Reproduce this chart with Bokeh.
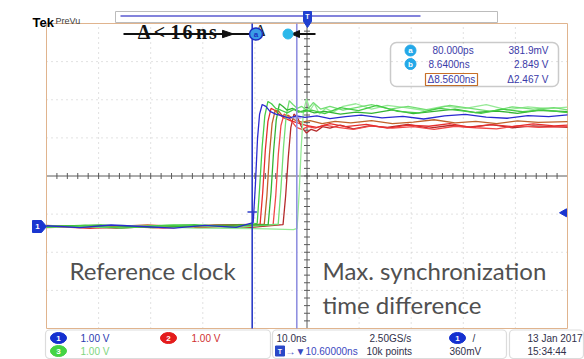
from bokeh.plotting import figure
from bokeh.models import Range1d, BoxAnnotation
from bokeh.core.properties import value
from bokeh.embed import file_html
from bokeh.resources import INLINE
import numpy as np

# ---------------- scope settings ----------------
TIME_PER_DIV_NS = 10.0
H_POSITION_NS = 10.6
VOLTS_PER_DIV = 1.0
CH1_OFFSET_DIV = 1.325
TRIGGER_LEVEL_V = 0.36
CURSOR_A_NS = 0.08
CURSOR_B_NS = 8.64
CURSOR_A_V = 0.3819
CURSOR_B_V = 2.849

# ---------------- waveforms (time ns, volts) ----------------
BLUE_T = [-39.4, -33, -27, -21, -15, -9, -3, 0.27, 0.7, 1.1, 1.5, 2.0, 2.7, 3.5, 4.6, 5.8, 7.2, 8.6, 10.2, 12.5, 15, 18, 21, 25, 29, 33, 37, 41, 45, 49, 53, 57, 60.6]
BLUE_V = [0.02, -0.03, 0.04, 0.00, -0.04, 0.03, -0.02, 0.10, 1.10, 2.30, 2.95, 3.20, 3.15, 3.02, 2.95, 2.90, 2.84, 2.90, 2.86, 2.90, 2.83, 2.88, 2.92, 2.85, 2.89, 2.82, 2.90, 2.94, 2.87, 2.84, 2.91, 2.88, 2.93]

GREEN1_T = [-39.4, -32, -25, -18, -11, -4, 1.04, 1.5, 2.0, 2.5, 3.1, 3.8, 4.6, 5.6, 6.8, 8.2, 9.6, 11.5, 14, 17, 20.5, 24, 28, 32, 36, 40, 44, 48, 52, 56, 60.6]
GREEN1_V = [-0.02, 0.03, -0.04, 0.02, 0.05, -0.01, 0.08, 1.0, 2.1, 2.9, 3.28, 3.22, 3.10, 3.05, 2.98, 3.08, 3.00, 3.05, 2.96, 3.12, 3.04, 3.18, 3.02, 2.98, 3.10, 3.04, 2.97, 3.08, 3.01, 3.06, 2.99]

RED1_T = [-39.4, -31, -23, -15, -7, 1.6, 2.1, 2.6, 3.1, 3.7, 4.4, 5.2, 6.2, 7.4, 8.8, 10.4, 12.5, 15, 18, 22, 26, 30, 34, 38, 42, 46, 50, 54, 58, 60.6]
RED1_V = [0.01, -0.05, 0.02, -0.03, 0.04, 0.06, 0.9, 2.0, 2.75, 3.10, 3.05, 2.95, 2.85, 2.78, 2.72, 2.65, 2.60, 2.70, 2.62, 2.68, 2.58, 2.66, 2.63, 2.70, 2.60, 2.67, 2.62, 2.69, 2.64, 2.66]

BROWN_T = [-39.4, -30, -20, -10, -2, 2.4, 2.9, 3.4, 3.9, 4.5, 5.2, 6.0, 7.0, 8.2, 9.6, 11.2, 13.5, 16, 19, 23, 27, 31, 35, 39, 43, 47, 51, 55, 60.6]
BROWN_V = [0.03, -0.02, 0.04, -0.03, 0.02, 0.06, 0.8, 1.9, 2.7, 3.05, 3.02, 2.88, 2.92, 2.80, 2.74, 2.78, 2.70, 2.76, 2.72, 2.78, 2.70, 2.74, 2.80, 2.72, 2.76, 2.70, 2.77, 2.73, 2.75]

GREEN2_T = [-39.4, -29, -19, -9, 3.15, 3.7, 4.2, 4.7, 5.3, 6.0, 6.8, 7.8, 9.0, 10.4, 12, 14, 17, 20, 23, 27, 31, 35, 39, 43, 47, 51, 55, 60.6]
GREEN2_V = [0.0, 0.04, -0.03, 0.03, 0.05, 0.9, 2.0, 2.8, 3.22, 3.15, 3.05, 3.10, 3.00, 3.05, 2.98, 3.02, 2.95, 3.00, 2.97, 3.06, 2.96, 3.02, 3.08, 2.99, 3.03, 2.97, 3.05, 3.01]

RED2_T = [-39.4, -28, -17, -6, 4.1, 4.6, 5.1, 5.6, 6.2, 6.9, 7.7, 8.6, 9.6, 10.8, 12.2, 14, 16.5, 19.5, 23, 27, 31, 35, 39, 43, 47, 51, 55, 60.6]
RED2_V = [-0.03, 0.02, -0.04, 0.03, 0.05, 0.8, 1.9, 2.65, 2.95, 2.90, 2.75, 2.60, 2.55, 2.62, 2.58, 2.66, 2.60, 2.55, 2.64, 2.58, 2.62, 2.55, 2.63, 2.59, 2.56, 2.64, 2.60, 2.62]

LTGREEN_T = [-39.4, -27, -15, -3, 5.07, 5.6, 6.1, 6.6, 7.2, 7.9, 8.7, 9.6, 10.6, 11.8, 13.2, 15, 17.5, 20, 23, 26.5, 30, 34, 38, 42, 46, 50, 54, 58, 60.6]
LTGREEN_V = [0.02, -0.03, 0.04, -0.02, 0.06, 1.0, 2.1, 2.9, 3.30, 3.20, 3.10, 3.15, 3.05, 3.25, 3.08, 3.15, 3.05, 3.12, 3.20, 3.08, 3.15, 3.05, 3.18, 3.10, 3.02, 3.14, 3.08, 3.12, 3.06]

DKRED_T = [-39.4, -26, -13, 0, 6.0, 6.5, 7.0, 7.5, 8.1, 8.8, 9.6, 10.5, 11.4, 12.4, 13.6, 15, 17, 19.5, 22.5, 26, 30, 34, 38, 42, 46, 50, 54, 58, 60.6]
DKRED_V = [0.01, -0.04, 0.03, -0.02, 0.05, 0.8, 1.8, 2.6, 2.95, 2.85, 2.60, 2.45, 2.55, 2.50, 2.62, 2.58, 2.66, 2.56, 2.64, 2.60, 2.68, 2.58, 2.65, 2.61, 2.67, 2.59, 2.64, 2.62, 2.60]

PALEGREEN_T = [-39.4, -25, -11, 3, 8.0, 8.7, 9.1, 9.5, 9.9, 10.5, 11.2, 12.0, 13.0, 14.2, 15.6, 17.5, 20, 23, 26, 29.5, 33, 37, 41, 45, 49, 53, 57, 60.6]
PALEGREEN_V = [-0.02, 0.03, -0.04, -0.06, -0.08, -0.05, 0.9, 2.1, 3.0, 3.35, 3.05, 3.22, 2.95, 3.10, 3.00, 3.15, 3.22, 3.08, 3.18, 3.12, 3.05, 3.16, 3.10, 3.20, 3.06, 3.14, 3.09, 3.13]

TRACES = [
    (DKRED_T, DKRED_V, "#b42a2a"),
    (RED2_T, RED2_V, "#f04848"),
    (RED1_T, RED1_V, "#e62e2e"),
    (BROWN_T, BROWN_V, "#c0622a"),
    (PALEGREEN_T, PALEGREEN_V, "#96ea96"),
    (LTGREEN_T, LTGREEN_V, "#74de74"),
    (GREEN2_T, GREEN2_V, "#34b434"),
    (GREEN1_T, GREEN1_V, "#46cc46"),
    (BLUE_T, BLUE_V, "#2a2ad0"),
]

# ---------------- texts ----------------
MEAS_ROWS = [("80.000ps", "381.9mV"), ("8.6400ns", "2.849 V"), ("\u03948.5600ns", "\u03942.467 V")]
CH_SCALES = ["1.00 V", "1.00 V", "1.00 V"]
TIMEBASE = "10.0ns"
SAMPLE_RATE = "2.50GS/s"
RECORD = "10k points"
TRIG_LEVEL_TXT = "360mV"
HPOS_TXT = "\u2192\u25bc10.60000ns"
DATE_TXT = "13 Jan 2017"
TIME_TXT = "15:34:44"
ANNOT_CHARS = ["\u0394", "<", "1", "6", "n", "s"]

# ---------------- layout ----------------
W, H = 584, 359
G_L, G_R, G_T, G_B = 46, 567, 23, 328          # graticule in reference pixels
px_per_ns = (G_R - G_L) / (10 * TIME_PER_DIV_NS)
px_per_v = (G_B - G_T) / (8 * VOLTS_PER_DIV)
t_left = H_POSITION_NS - 5 * TIME_PER_DIV_NS
t_right = H_POSITION_NS + 5 * TIME_PER_DIV_NS
v_center = CH1_OFFSET_DIV * VOLTS_PER_DIV
v_top = v_center + 4 * VOLTS_PER_DIV
v_bot = v_center - 4 * VOLTS_PER_DIV

x0 = t_left - G_L / px_per_ns
x1 = t_left + (W - G_L) / px_per_ns
y1 = v_top + G_T / px_per_v
y0 = v_top - (H - G_T) / px_per_v

p = figure(width=W, height=H, x_range=Range1d(x0, x1), y_range=Range1d(y0, y1),
           toolbar_location=None, output_backend="svg", min_border=0,
           x_axis_type=None, y_axis_type=None)
p.outline_line_color = None
p.background_fill_color = "white"
p.border_fill_color = "white"
p.extra_x_ranges = {"px": Range1d(0, W)}
p.extra_y_ranges = {"px": Range1d(H, 0)}
PX = dict(x_range_name="px", y_range_name="px")


def txt(x, y, s, color, size, font="Liberation Sans", align="left", baseline="middle", style="normal"):
    p.text(x=[x], y=[y], text=[s], text_color=color, text_font=value(font),
           text_font_size=value(f"{size}px"), text_align=align, text_baseline=baseline,
           text_font_style=style, **PX)


def rbox(l, r, t, b, color, lw=1.2, radius=4):
    p.add_layout(BoxAnnotation(left=l, right=r, top=t, bottom=b, fill_color=None, fill_alpha=0,
                               line_color=color, line_width=lw, border_radius=radius, **PX))


# graticule dotted grid
vt = [t_left + k * TIME_PER_DIV_NS for k in range(1, 10) if k != 5]
p.segment(x0=vt, y0=[v_bot] * len(vt), x1=vt, y1=[v_top] * len(vt),
          line_color="#c4c4c4", line_width=1, line_dash="1 4")
hv = [v_bot + k * VOLTS_PER_DIV for k in range(1, 8) if k != 4]
p.segment(x0=[t_left] * len(hv), y0=hv, x1=[t_right] * len(hv), y1=hv,
          line_color="#c4c4c4", line_width=1, line_dash="1 4")
# center axes with minor ticks
p.segment(x0=[t_left], y0=[v_center], x1=[t_right], y1=[v_center], line_color="#5a5a5a", line_width=1)
p.segment(x0=[H_POSITION_NS], y0=[v_bot], x1=[H_POSITION_NS], y1=[v_top], line_color="#5a5a5a", line_width=1)
tx = np.arange(t_left, t_right + 0.01, TIME_PER_DIV_NS / 5)
p.scatter(x=tx, y=[v_center] * len(tx), marker="dash", size=6, angle=np.pi / 2, line_color="#5a5a5a")
ty = np.arange(v_bot, v_top + 0.001, VOLTS_PER_DIV / 5)
p.scatter(x=[H_POSITION_NS] * len(ty), y=ty, marker="dash", size=6, line_color="#5a5a5a")
# graticule border
p.quad(left=[t_left], right=[t_right], bottom=[v_bot], top=[v_top], fill_color=None,
       line_color="#e0b48e", line_width=1)

# waveforms
for tt, vv, c in TRACES:
    p.line(tt, vv, line_color=c, line_width=1.3)

# cursors
p.segment(x0=[CURSOR_A_NS], y0=[v_bot], x1=[CURSOR_A_NS], y1=[v_top], line_color="#2c3cc8", line_width=1.6)
p.segment(x0=[CURSOR_B_NS], y0=[v_bot], x1=[CURSOR_B_NS], y1=[v_top], line_color="#9090e0", line_width=1.6)
p.segment(x0=[CURSOR_A_NS - 0.9], y0=[CURSOR_A_V], x1=[CURSOR_A_NS + 0.9], y1=[CURSOR_A_V], line_color="#2c3cc8", line_width=1.4)
p.segment(x0=[CURSOR_B_NS - 0.9], y0=[CURSOR_B_V], x1=[CURSOR_B_NS + 0.9], y1=[CURSOR_B_V], line_color="#9090e0", line_width=1.4)

# ch1 ground marker and trigger level marker
p.patch([32, 41, 46, 41, 32], [220, 220, 226, 232, 232], fill_color="#1a36d0", line_color="#1a36d0", **PX)
txt(37, 226, "1", "white", 8, style="bold", align="center")
gy = G_T + (v_top - TRIGGER_LEVEL_V) * px_per_v
p.patch([559, 566, 566], [gy, gy - 4, gy + 4], fill_color="#1a36d0", line_color="#1a36d0", **PX)

# top: Tek PreVu, record bar, trigger position marker
txt(32, 22, "Tek", "black", 13, style="bold", baseline="alphabetic")
txt(55, 20.5, "PreVu", "#404040", 9, baseline="alphabetic")
p.quad(left=[115], right=[497], top=[11], bottom=[22], fill_color=None, line_color="#bcbcbc", line_width=1, **PX)
p.segment(x0=[120], y0=[15.5], x1=[420], y1=[15.5], line_color="#5a5ad0", line_width=1.5, **PX)
p.patch([303, 311, 311, 307, 303], [11, 11, 21, 27, 21], fill_color="#2040d0", line_color="#2040d0", **PX)
txt(307, 16, "T", "white", 7, style="bold", align="center")

# annotation arrows, then the delta < 16 ns text above the arrow
p.segment(x0=[123], y0=[33.5], x1=[252], y1=[33.5], line_color="#111111", line_width=1.8, **PX)
p.patch([222, 233, 222], [29.8, 33.5, 37.2], fill_color="#111111", line_color="#111111", **PX)
p.segment(x0=[290], y0=[33.5], x1=[315], y1=[33.5], line_color="#111111", line_width=1.8, **PX)
p.patch([291, 299, 299], [33.5, 30.0, 37.0], fill_color="#111111", line_color="#111111", **PX)
for ch, cx in zip(ANNOT_CHARS, [143.5, 159, 175, 187, 201, 212.5]):
    txt(cx, 31, ch, "#111111", 20, font="Liberation Serif", align="center", baseline="alphabetic", style="bold")
txt(260, 30, "\u0394", "#222222", 16, font="Liberation Serif", align="center", baseline="alphabetic")
p.ellipse(x=[255.5], y=[33.5], width=13, height=12, fill_color="#3a9ce6", line_color="#1c2fc0", line_width=1.5, **PX)
txt(255.5, 33.5, "a", "#1c2fc0", 8, style="bold", align="center")
p.ellipse(x=[287.5], y=[33.5], width=10, height=10, fill_color="#2cb8ea", line_color="#2cb8ea", **PX)

# measurement readout box
rbox(390, 558, 42, 86, "#505050", lw=1.5, radius=6)
p.quad(left=[425], right=[477], top=[73], bottom=[85], fill_color=None, line_color="#c87028", line_width=1.2, **PX)
row_y = [50, 63.5, 79]
for (lt, rt), yy, lx in zip(MEAS_ROWS, row_y, [432, 428, 427]):
    txt(lx, yy, lt, "#3a3aa8", 10)
    txt(548, yy, rt, "#3a3aa8", 10, align="right")
for lab, yy in zip(["a", "b"], row_y[:2]):
    p.ellipse(x=[410], y=[yy], width=11, height=11, fill_color="#24a8e8", line_color="#24a8e8", **PX)
    txt(410, yy, lab, "white", 8, style="bold", align="center")

# big annotation texts
txt(69, 270, "Reference clock", "#505050", 24, font="Lato", baseline="alphabetic")
txt(322, 269.5, "Max. synchronization", "#505050", 24, font="Lato", baseline="alphabetic")
txt(322, 303.5, "time difference", "#505050", 24, font="Lato", baseline="alphabetic")

# status bar
rbox(45, 270, 329.5, 358, "#8c8c8c")
rbox(272, 506, 329.5, 358, "#8c8c8c")
rbox(509, 583, 329.5, 358, "#8c8c8c")
R1, R2 = 337.5, 350.5
for (cx, cy, col, lab) in [(58, R1, "#1530d0", "1"), (168, R1, "#e41c1c", "2"), (58, R2, "#44d444", "3")]:
    p.ellipse(x=[cx], y=[cy], width=16, height=11, fill_color=col, line_color=col, **PX)
    txt(cx, cy, lab, "white", 8, style="bold", align="center")
txt(80, R1, CH_SCALES[0], "#2a3ab0", 10)
txt(191, R1, CH_SCALES[1], "#d03030", 10)
txt(80, R2, CH_SCALES[2], "#7ed67e", 10)
txt(276, R1, TIMEBASE, "#30304a", 10)
txt(369, R1, SAMPLE_RATE, "#30304a", 10)
p.ellipse(x=[457], y=[R1], width=16, height=11, fill_color="#1530d0", line_color="#1530d0", **PX)
txt(457, R1, "1", "white", 8, style="bold", align="center")
txt(472, R1, "/", "#30304a", 10)
p.quad(left=[275], right=[284], top=[R2 - 5], bottom=[R2 + 5], fill_color="#2a48c8", line_color="#2a48c8", **PX)
txt(279.5, R2, "T", "white", 7, style="bold", align="center")
txt(285, R2, HPOS_TXT, "#3a48c0", 10)
txt(366, R2, RECORD, "#30304a", 10)
txt(449, R2, TRIG_LEVEL_TXT, "#30304a", 10)
txt(527, R1, DATE_TXT, "#30304a", 10)
txt(527, R2, TIME_TXT, "#30304a", 10)

open("out.html", "w").write(file_html(p, INLINE))
